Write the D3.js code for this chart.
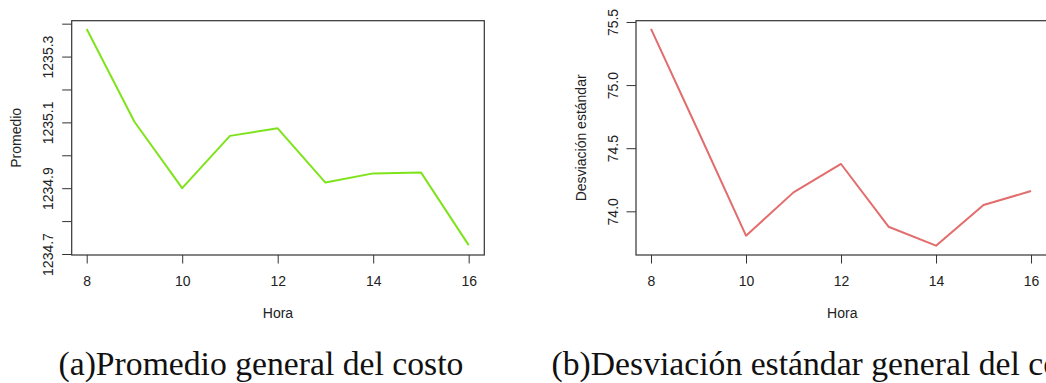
<!DOCTYPE html>
<html>
<head>
<meta charset="utf-8">
<script src="https://cdn.jsdelivr.net/npm/d3@7"></script>
<style>
  html, body { margin: 0; padding: 0; background: #fff; }
  svg { display: block; }
</style>
</head>
<body>
<script>
// ---- data ----
const hours = [8, 9, 10, 11, 12, 13, 14, 15, 16];
const promedio = [1235.384, 1235.102, 1234.900, 1235.059, 1235.082, 1234.917, 1234.945, 1234.948, 1234.727];
const desviacion = [75.445, 74.63, 73.807, 74.15, 74.375, 73.878, 73.728, 74.05, 74.161];
const xTicks = [8, 10, 12, 14, 16];
const leftYTicks = [1234.7, 1234.8, 1234.9, 1235.0, 1235.1, 1235.2, 1235.3, 1235.4];
const leftYLabels = [1234.7, 1234.9, 1235.1, 1235.3];
const rightYTicks = [74.0, 74.5, 75.0, 75.5];
const xTitle = "Hora";
const leftYTitle = "Promedio";
const rightYTitle = "Desviación estándar";
const captionA = "(a)Promedio general del costo";
const captionB = "(b)Desviación estándar general del costo";

const W = 1046, H = 383;
const svg = d3.select("body").append("svg").attr("width", W).attr("height", H);
svg.append("rect").attr("width", W).attr("height", H).attr("fill", "#fff");

const sansFont = "'Liberation Sans', Arial, sans-serif";
const textColor = "#222";

function panel(opts) {
  const { left, top, width, height, xDomain, yDomain, values, yTicks, yLabels, yFmt, color, yTitle, yTitleX } = opts;
  const g = svg.append("g");
  const x = d3.scaleLinear().domain(xDomain).range([left, left + width]);
  const y = d3.scaleLinear().domain(yDomain).range([top + height, top]);

  // x axis
  const xa = g.append("g").attr("transform", `translate(0,${top + height})`)
    .call(d3.axisBottom(x).tickValues(xTicks).tickSize(8.5).tickSizeOuter(0).tickFormat(d3.format("d")));
  xa.select(".domain").remove();
  xa.selectAll(".tick line").attr("stroke", "#333");
  xa.selectAll(".tick text").attr("y", null).attr("dy", null)
    .attr("transform", "translate(0,30.5)")
    .attr("font-family", sansFont).attr("font-size", 14).attr("fill", textColor);

  // y axis
  const ya = g.append("g").attr("transform", `translate(${left},0)`)
    .call(d3.axisLeft(y).tickValues(yTicks).tickSize(9.5).tickSizeOuter(0)
      .tickFormat(d => yLabels.some(v => Math.abs(v - d) < 1e-9) ? yFmt(d) : ""));
  ya.select(".domain").remove();
  ya.selectAll(".tick line").attr("stroke", "#333");
  ya.selectAll(".tick text").attr("x", null).attr("dy", null)
    .attr("text-anchor", "middle")
    .attr("transform", "translate(-18.2,0) rotate(-90)")
    .attr("font-family", sansFont).attr("font-size", 14).attr("fill", textColor);

  // line
  const line = d3.line().x((d, i) => x(hours[i])).y(d => y(d));
  g.append("path").datum(values).attr("d", line)
    .attr("fill", "none").attr("stroke", color).attr("stroke-width", 2)
    .attr("stroke-linejoin", "round");

  // box
  g.append("rect").attr("x", left).attr("y", top).attr("width", width).attr("height", height)
    .attr("fill", "none").attr("stroke", "#333").attr("stroke-width", 1.2);

  // titles
  g.append("text").attr("x", left + width / 2).attr("y", top + height + 63.3)
    .attr("text-anchor", "middle").attr("font-family", sansFont).attr("font-size", 14)
    .attr("fill", textColor).text(xTitle);
  g.append("text")
    .attr("transform", `translate(${yTitleX},${top + height / 2}) rotate(-90)`)
    .attr("text-anchor", "middle").attr("font-family", sansFont).attr("font-size", 14)
    .attr("fill", textColor).text(yTitle);
}

panel({
  left: 71.7, top: 20.7, width: 412.6, height: 234.3,
  xDomain: [7.686, 16.327], yDomain: [1234.697, 1235.409],
  values: promedio, yTicks: leftYTicks, yLabels: leftYLabels, yFmt: d3.format(".1f"),
  color: "#7FE31C", yTitle: leftYTitle, yTitleX: 20.5
});

panel({
  left: 636, top: 20.7, width: 412.6, height: 234.3,
  xDomain: [7.684, 16.37], yDomain: [73.654, 75.51],
  values: desviacion, yTicks: rightYTicks, yLabels: rightYTicks, yFmt: d3.format(".1f"),
  color: "#E36C6C", yTitle: rightYTitle, yTitleX: 585.5
});

// captions
const serif = "'Liberation Serif', 'DejaVu Serif', serif";
const capA = svg.append("text").attr("x", 58.5).attr("y", 375)
  .attr("font-family", serif).attr("font-size", 27).attr("fill", "#111").text(captionA);
const measured = capA.node().getComputedTextLength();
const fs = 27 * 405 / measured;
capA.attr("font-size", fs);
svg.append("text").attr("x", 551.5).attr("y", 375)
  .attr("font-family", serif).attr("font-size", fs).attr("fill", "#111").text(captionB);
</script>
</body>
</html>
